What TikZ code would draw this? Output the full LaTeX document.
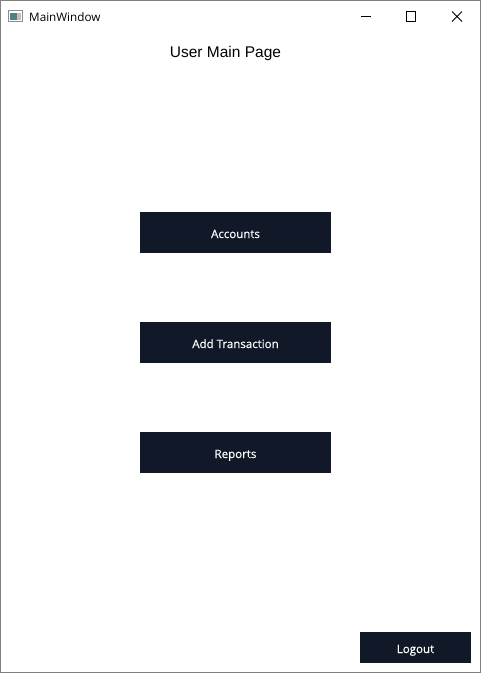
\documentclass[tikz,border=0pt]{standalone}
\usepackage{fontspec}
\setmainfont{Open Sans}
\newfontfamily\btnfont[FakeBold=0.35]{Open Sans}
\newfontfamily\titlefont{Liberation Sans}
\definecolor{btn}{HTML}{111929}
\definecolor{frame}{HTML}{808080}
\tikzset{
  uibutton/.style={fill=btn,draw=none,text=white,inner sep=0pt,anchor=center,text height=12pt,text depth=1pt,font=\btnfont\fontsize{11.5}{14}\selectfont},
  wicon/.style={draw=black,line width=1pt}
}
\begin{document}
\begin{tikzpicture}[x=1pt,y=-1pt]
\useasboundingbox (0,0) rectangle (482,673);
\fill[white] (0,0) rectangle (482,673);
\draw[frame,line width=1pt] (0.5,0.5) rectangle (480.5,672.5);
% app icon
\draw[draw=black!45,fill=white,line width=.8pt] (8.5,10.5) rectangle (22.5,21.5);
\fill[teal!60!black!70] (10,13) rectangle (17,20);
\fill[black!25] (17,13) rectangle (21,20);
\node[anchor=west,inner sep=0pt,font=\fontsize{11.7}{14}\selectfont] (wtitle) at (29,17) {MainWindow};
% window controls
\draw[wicon] (361,16.5) -- (371,16.5);
\draw[wicon] (406.5,11.5) rectangle (415.5,21.5);
\draw[wicon] (452,11.5) -- (462,21.5) (462,11.5) -- (452,21.5);
% title
\node[inner sep=0pt,font=\titlefont\fontsize{15.5}{18}\selectfont] (title) at (225.5,53.5) {User Main Page};
% buttons
\node[uibutton,minimum width=191pt,minimum height=41pt] (accounts) at (235.5,232.5) {Accounts};
\node[uibutton,minimum width=191pt,minimum height=41pt] (add) at (235.5,342.5) {Add Transaction};
\node[uibutton,minimum width=191pt,minimum height=41pt] (reports) at (235.5,452.5) {Reports};
\node[uibutton,minimum width=111pt,minimum height=31pt] (logout) at (415.5,647.5) {Logout};
\end{tikzpicture}
\end{document}
